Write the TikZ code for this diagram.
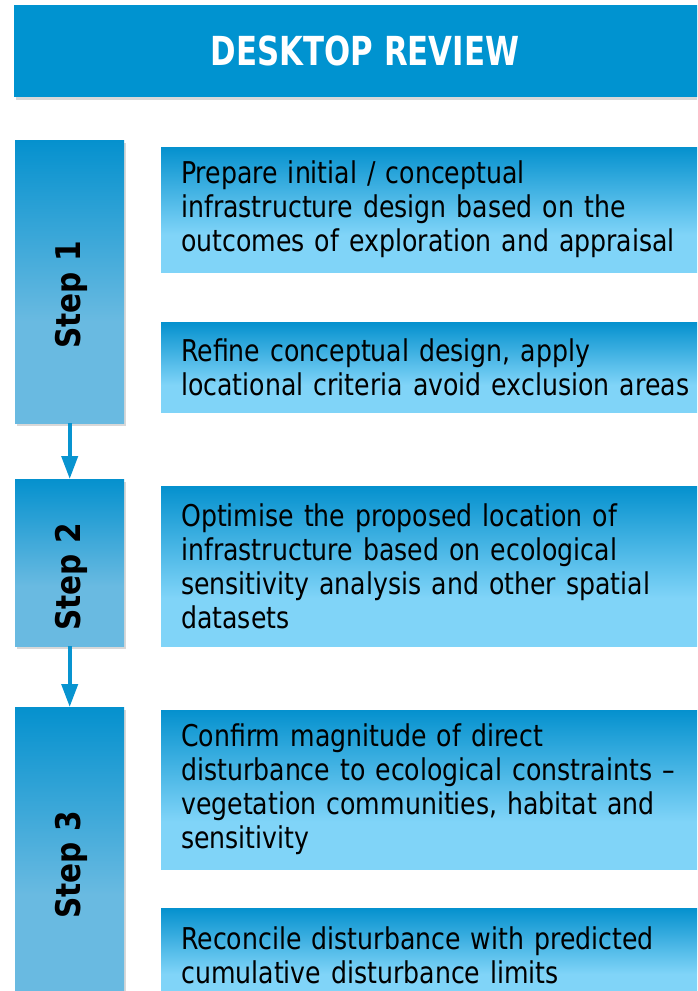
\documentclass[tikz,border=0pt]{standalone}
\usepackage{fontspec}
\setmainfont{DejaVu Sans}
\newfontfamily\bodyfont[FakeStretch=0.84,Ligatures=TeX]{DejaVu Sans}
\newfontfamily\stepfont[FakeStretch=0.87]{DejaVu Sans}
\newfontfamily\titlefont[FakeStretch=0.77]{DejaVu Sans}
\usetikzlibrary{arrows.meta,shadows}
\definecolor{hdrblue}{RGB}{0,147,208}
\definecolor{darkblue}{RGB}{5,145,206}
\definecolor{stepltblue}{RGB}{105,186,225}
\definecolor{boxltblue}{RGB}{128,212,248}
\definecolor{arrblue}{RGB}{8,148,208}
\pgfdeclareverticalshading{stepshade}{100bp}{color(0bp)=(stepltblue); color(25bp)=(stepltblue); color(43bp)=(stepltblue); color(75bp)=(darkblue); color(100bp)=(darkblue)}
\pgfdeclareverticalshading{boxshade}{100bp}{color(0bp)=(boxltblue); color(25bp)=(boxltblue); color(40bp)=(boxltblue); color(75bp)=(darkblue); color(100bp)=(darkblue)}
\begin{document}
\begin{tikzpicture}[x=1pt,y=-1pt,
  softshadow/.style={drop shadow={opacity=0.3,shadow xshift=1.5pt,shadow yshift=-3pt}},
  hdr/.style={fill=hdrblue, softshadow, minimum width=702pt, minimum height=92pt, inner sep=0pt,
    text=white, font=\titlefont\bfseries\fontsize{40}{44}\selectfont},
  stepbox/.style={shade, shading=stepshade, softshadow, minimum width=109pt, inner sep=0pt, anchor=north west},
  steptext/.style={rotate=90, font=\stepfont\bfseries\fontsize{34}{36}\selectfont, text=black},
  txtbox/.style={shade, shading=boxshade, anchor=north west, text width=540pt, inner xsep=20pt,
    inner ysep=0pt, align=left, minimum width=580pt, font=\bodyfont\fontsize{30}{34}\selectfont, text=black},
  arr/.style={draw=arrblue, line width=4pt, -{Triangle[length=23pt,width=16pt]}}]
\useasboundingbox (0,0) rectangle (697,991);
\clip (0,0) rectangle (697,991);
\fill[white] (0,0) rectangle (697,991);

\node[hdr] (h) at (365,51) {DESKTOP REVIEW};

\node[stepbox, minimum height=283pt] (s1) at (15,140) {};
\node[stepbox, minimum height=167pt] (s2) at (15,479) {};
\node[stepbox, minimum height=293pt] (s3) at (15,707) {};

\node[steptext] (t1) at (71,295) {Step 1};
\node[steptext] (t2) at (71,577) {Step 2};
\node[steptext] (t3) at (71,865) {Step 3};

\node[txtbox, minimum height=125pt] (b1) at (161,147) {Prepare initial / conceptual\\infrastructure design based on the\\outcomes of exploration and appraisal};
\node[txtbox, minimum height=90pt] (b2) at (161,322) {Refine conceptual design, apply\\locational criteria avoid exclusion areas};
\node[txtbox, minimum height=160pt] (b3) at (161,486) {Optimise the proposed location of\\infrastructure based on ecological\\sensitivity analysis and other spatial\\datasets};
\node[txtbox, minimum height=159pt] (b4) at (161,710) {Confirm magnitude of direct\\disturbance to ecological constraints –\\vegetation communities, habitat and\\sensitivity};
\node[txtbox, minimum height=94pt] (b5) at (161,908) {Reconcile disturbance with predicted\\cumulative disturbance limits};

\draw[arr] (s1.south) -- (s2.north);
\draw[arr] (s2.south) -- (s3.north);
\end{tikzpicture}
\end{document}
